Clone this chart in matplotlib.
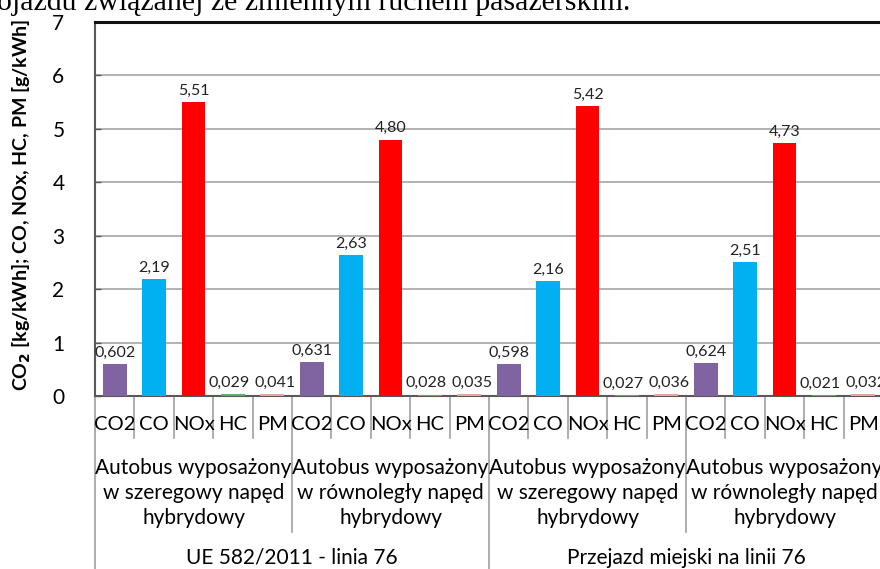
import matplotlib
matplotlib.use("Agg")
import matplotlib.pyplot as plt
import matplotlib.transforms as mtransforms
import numpy as np

# emission components (one bar each) and the grouping levels under the axis
components = ["CO2", "CO", "NOx", "HC", "PM"]
bus_types = ["Autobus wyposażony\nw szeregowy napęd\nhybrydowy",
             "Autobus wyposażony\nw równoległy napęd\nhybrydowy"]
tests = ["UE 582/2011 - linia 76", "Przejazd miejski na linii 76"]

# values per (test, bus type): CO2 in kg/kWh, the rest in g/kWh
ue_series = [0.602, 2.19, 5.51, 0.029, 0.041]
ue_parallel = [0.631, 2.63, 4.80, 0.028, 0.035]
city_series = [0.598, 2.16, 5.42, 0.027, 0.036]
city_parallel = [0.624, 2.51, 4.73, 0.021, 0.032]
decimals = [3, 2, 2, 3, 3]

colors = ["#8064A2", "#00B0F0", "#FF0000", "#5BAF6E", "#E8A3A3"]
# small sideways nudge (points) so the HC/PM labels don't run together
label_dx = [0, 0, 0, -3, 2]
FONT = "Lato"

W, H = 880, 569
fig = plt.figure(figsize=(W / 100, H / 100), dpi=100)
x0, x1, y_top, y_bot = 95, 883, 22, 396
ax = fig.add_axes([x0 / W, (H - y_bot) / H, (x1 - x0) / W, (y_bot - y_top) / H])

blocks = [ue_series, ue_parallel, city_series, city_parallel]
vals = np.concatenate(blocks)
n = len(vals)
xs = np.arange(n)
bar_colors = colors * len(blocks)
ax.bar(xs, vals, width=0.6, color=bar_colors, zorder=3)

k = len(components)
for i, v in enumerate(vals):
    d = decimals[i % k]
    ax.annotate(f"{v:.{d}f}".replace(".", ","), (i, v),
                xytext=(label_dx[i % k], 3), textcoords="offset points",
                ha="center", va="bottom", fontsize=11.5, family=FONT,
                color="#222222")

ax.set_xlim(-0.5, n - 0.5)
ax.set_ylim(0, 7)
ax.set_yticks(range(8))
ax.yaxis.grid(True, color="#a6a6a6", linewidth=1.2, zorder=0)
ax.tick_params(axis="y", direction="in", length=4, width=1, color="#595959",
               labelsize=15, pad=22)
for t in ax.get_yticklabels():
    t.set_family(FONT)
ax.set_xticks([])
for s in ["left", "bottom"]:
    ax.spines[s].set_color("#595959")
    ax.spines[s].set_linewidth(1.5)
ax.spines["top"].set_color("#111111")
ax.spines["top"].set_linewidth(2.2)
ax.spines["right"].set_visible(False)

# multi-level category axis below the plot
ax_h = y_bot - y_top
def fy(px):
    return (y_bot - px) / ax_h

trans = mtransforms.blended_transform_factory(ax.transData, ax.transAxes)
sep = dict(color="#a0a0a0", linewidth=1.2, clip_on=False, transform=trans)

for i in range(n):
    ax.text(i, fy(424), components[i % k], ha="center", va="center",
            fontsize=14.5, family=FONT, transform=trans)
for i in range(n + 1):
    xb = i - 0.5
    if i % 10 == 0:
        bottom = fy(H + 5)
    elif i % 5 == 0:
        bottom = fy(532)
    else:
        bottom = fy(438)
    ax.plot([xb, xb], [0, bottom], **sep)

for g in range(len(blocks)):
    ax.text(g * k + (k - 1) / 2, fy(493), bus_types[g % 2], ha="center",
            va="center", fontsize=15, family=FONT, linespacing=1.3,
            transform=trans)
for t, name in enumerate(tests):
    ax.text(t * 2 * k + (2 * k - 1) / 2, fy(558), name, ha="center",
            va="center", fontsize=15, family=FONT, transform=trans)

fig.text(22 / W, 1 - 205 / H, "CO$_\\mathbf{2}$ [kg/kWh]; CO, NOx, HC, PM [g/kWh]",
         rotation=90, ha="center", va="center", fontsize=14, fontweight="bold",
         family=FONT)

# running text of the surrounding page
fig.text(-3 / W, 1 - 10 / H, "ojazdu związanej ze zmiennym ruchem pasażerskim.",
         ha="left", va="baseline", fontsize=21.5, family="Liberation Serif")

fig.savefig("out.png", dpi=100)
